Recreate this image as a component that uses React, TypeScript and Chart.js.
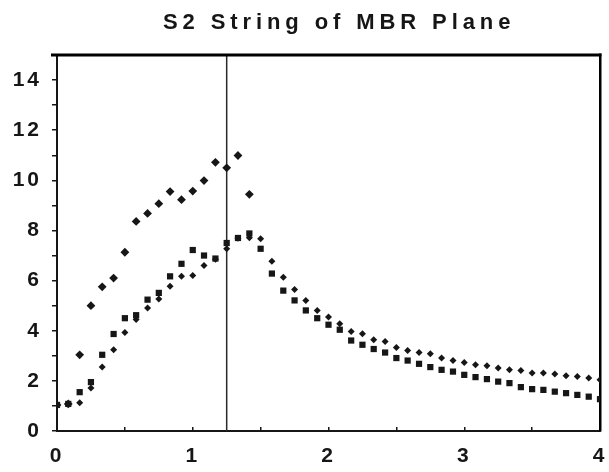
import React, { useEffect, useRef } from "react";
import { Chart, registerables } from "chart.js";

Chart.register(...registerables);

const TITLE = "S2 String of MBR Plane";

const X_VALUES = [
  0, 0.083, 0.167, 0.25, 0.333, 0.417, 0.5, 0.583, 0.667, 0.75, 0.833, 0.917,
  1.0, 1.083, 1.167, 1.25, 1.333, 1.417, 1.5, 1.583, 1.667, 1.75, 1.833, 1.917,
  2.0, 2.083, 2.167, 2.25, 2.333, 2.417, 2.5, 2.583, 2.667, 2.75, 2.833, 2.917,
  3.0, 3.083, 3.167, 3.25, 3.333, 3.417, 3.5, 3.583, 3.667, 3.75, 3.833, 3.917,
  4.0,
];

// large diamond series (ends after the peak)
const UPPER = [
  1.04, 1.08, 3.04, 5.0, 5.75, 6.1, 7.13, 8.36, 8.68, 9.07, 9.55, 9.23,
  9.57, 9.99, 10.72, 10.5, 10.99, 9.44,
];

// square series
const SQUARE = [
  1.04, 1.08, 1.55, 1.95, 3.04, 3.87, 4.5, 4.62, 5.24, 5.51, 6.17, 6.67,
  7.22, 7.0, 6.88, 7.5, 7.7, 7.88, 7.27, 6.28, 5.6, 5.21, 4.81, 4.5,
  4.24, 4.04, 3.61, 3.44, 3.27, 3.13, 2.91, 2.81, 2.68, 2.55, 2.44, 2.37,
  2.24, 2.15, 2.07, 1.97, 1.91, 1.75, 1.67, 1.64, 1.57, 1.51, 1.44, 1.37,
  1.27,
];

// small diamond series
const SMALL = [
  1.04, 1.08, 1.13, 1.72, 2.55, 3.24, 3.93, 4.45, 4.91, 5.27, 5.77, 6.17,
  6.2, 6.6, 6.85, 7.27, 7.69, 7.71, 7.67, 6.77, 6.13, 5.64, 5.21, 4.81,
  4.55, 4.28, 3.97, 3.88, 3.64, 3.57, 3.33, 3.21, 3.13, 3.08, 2.91, 2.81,
  2.73, 2.64, 2.6, 2.51, 2.44, 2.41, 2.31, 2.31, 2.27, 2.2, 2.17, 2.11,
  2.04,
];

const MARKER_X = 1.25;
const X_TICK_LABELS = ["0", "1", "2", "3", "4"];
const Y_TICK_LABELS = ["0", "2", "4", "6", "8", "10", "12", "14"];

const INK = "#161616";

function toPoints(ys: number[]) {
  return ys.map((y, i) => ({ x: X_VALUES[i], y }));
}

const framePlugin = {
  id: "framePlugin",
  beforeDraw(chart: any) {
    chart.ctx.letterSpacing = "3px";
  },
  beforeDatasetsDraw(chart: any) {
    const { ctx } = chart;
    const top = chart.scales.y.top;
    const bottom = chart.scales.y.bottom;
    const left = chart.scales.x.left;
    const right = chart.scales.x.right;
    const vx = chart.scales.x.getPixelForValue(MARKER_X);
    ctx.save();
    ctx.fillStyle = "#2a2a2a";
    ctx.fillRect(vx - 0.75, top, 1.5, bottom - top);
    ctx.fillStyle = "#000000";
    ctx.fillRect(left - 6, top - 1.5, right - left + 7.5, 3);
    ctx.fillRect(right - 1, top - 1.5, 2.5, bottom - top + 2);
    ctx.restore();
  },
  afterDraw(chart: any) {
    const ctx = chart.ctx;
    ctx.save();
    ctx.letterSpacing = "4.9px";
    ctx.font = 'bold 22px "Liberation Sans", Arial, sans-serif';
    ctx.fillStyle = INK;
    ctx.textAlign = "left";
    ctx.textBaseline = "alphabetic";
    ctx.fillText(TITLE, 163, 29);
    ctx.restore();
    ctx.letterSpacing = "0px";
  },
};

export default function App() {
  const ref = useRef<HTMLCanvasElement | null>(null);

  useEffect(() => {
    if (!ref.current) return;
    const tickFont = { family: '"Liberation Sans", Arial, sans-serif', size: 21, weight: "bold" as const };
    const chart = new Chart(ref.current, {
      type: "scatter",
      data: {
        datasets: [
          { label: "upper", data: toPoints(UPPER), pointStyle: "rectRot", pointRadius: 4.4, backgroundColor: INK, borderColor: INK, borderWidth: 0 },
          { label: "square", data: toPoints(SQUARE), pointStyle: "rect", pointRadius: 4.4, backgroundColor: INK, borderColor: INK, borderWidth: 0 },
          { label: "small", data: toPoints(SMALL), pointStyle: "rectRot", pointRadius: 3.5, backgroundColor: INK, borderColor: INK, borderWidth: 0 },
        ],
      },
      options: {
        animation: false,
        responsive: false,
        devicePixelRatio: 1,
        layout: { padding: { top: 55, right: 9, left: 0, bottom: 0 } },
        plugins: { legend: { display: false }, title: { display: false }, tooltip: { enabled: false } },
        scales: {
          x: {
            type: "linear", min: 0, max: 4,
            afterFit: (s: any) => { s.height = 41; s.paddingLeft = 0; s.paddingRight = 0; },
            ticks: { stepSize: 0.5, autoSkip: false, maxRotation: 0, padding: 17, color: INK, font: tickFont,
              callback: (v: any) => (X_TICK_LABELS.includes(String(v)) ? String(v) : "") },
            grid: { drawOnChartArea: false, drawTicks: true, tickLength: -4, color: INK, lineWidth: 1.5 },
            border: { display: true, color: INK, width: 2 },
          },
          y: {
            type: "linear", min: 0, max: 15,
            afterFit: (s: any) => { s.width = 57; s.paddingTop = 0; s.paddingBottom = 0; },
            ticks: { stepSize: 1, autoSkip: false, padding: 10, color: INK, font: tickFont,
              callback: (v: any) => (Y_TICK_LABELS.includes(String(v)) ? String(v) : "") },
            grid: { drawOnChartArea: false, drawTicks: true, tickLength: 5, color: INK, lineWidth: 1.5 },
            border: { display: true, color: INK, width: 2 },
          },
        },
      },
      plugins: [framePlugin],
    });
    return () => chart.destroy();
  }, []);

  return (
    <div style={{ position: "absolute", left: 0, top: 0, width: 609, height: 472, background: "#fff" }}>
      <canvas ref={ref} width={609} height={472} style={{ display: "block" }} />
    </div>
  );
}
